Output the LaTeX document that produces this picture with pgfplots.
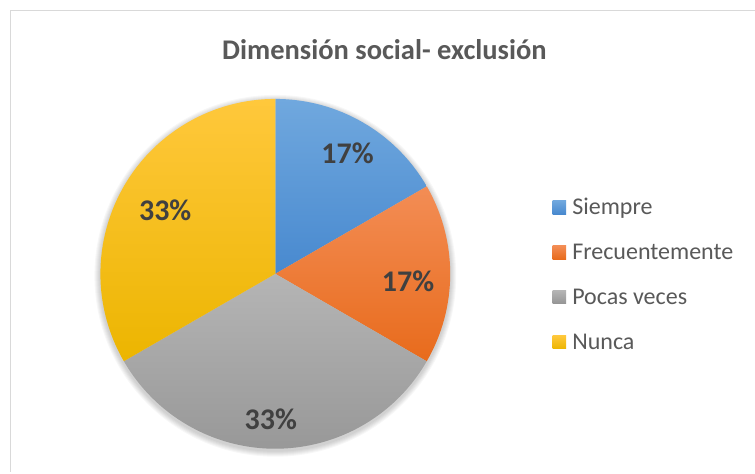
\documentclass[border=0pt]{standalone}
\usepackage{pgfplots}
\usepackage{pgfplotstable}
\usepackage{fontspec}
\pgfplotsset{compat=1.18}
\setmainfont{Carlito}

\definecolor{blueT}{HTML}{70A8DE}
\definecolor{blueB}{HTML}{4889CF}
\definecolor{orangeT}{HTML}{F38D55}
\definecolor{orangeB}{HTML}{E86B1C}
\definecolor{grayT}{HTML}{B5B5B5}
\definecolor{grayB}{HTML}{949494}
\definecolor{goldT}{HTML}{FFC83C}
\definecolor{goldB}{HTML}{ECB500}
\definecolor{lbl}{HTML}{404040}
\definecolor{txt}{HTML}{595959}
\definecolor{frame}{HTML}{D9D9D9}

% share of answers, in percent
\pgfplotstableread[col sep=comma]{
label,value
Siempre,16.67
Frecuentemente,16.67
Pocas veces,33.33
Nunca,33.33
}\piedata

% pie centre and radius (axis units = pt)
\def\cx{275.5}
\def\cy{198}
\def\rr{175}

\pgfplotstablegetelem{0}{value}\of\piedata\let\vA\pgfplotsretval
\pgfplotstablegetelem{1}{value}\of\piedata\let\vB\pgfplotsretval
\pgfplotstablegetelem{2}{value}\of\piedata\let\vC\pgfplotsretval
\pgfplotstablegetelem{3}{value}\of\piedata\let\vD\pgfplotsretval

\pgfmathsetmacro\aA{90}
\pgfmathsetmacro\aB{\aA-3.6*\vA}
\pgfmathsetmacro\aC{\aB-3.6*\vB}
\pgfmathsetmacro\aD{\aC-3.6*\vC}
\pgfmathsetmacro\aE{\aD-3.6*\vD}

\pgfmathsetmacro\xA{\cx+\rr*cos(\aA)}\pgfmathsetmacro\yA{\cy+\rr*sin(\aA)}
\pgfmathsetmacro\xB{\cx+\rr*cos(\aB)}\pgfmathsetmacro\yB{\cy+\rr*sin(\aB)}
\pgfmathsetmacro\xC{\cx+\rr*cos(\aC)}\pgfmathsetmacro\yC{\cy+\rr*sin(\aC)}
\pgfmathsetmacro\xD{\cx+\rr*cos(\aD)}\pgfmathsetmacro\yD{\cy+\rr*sin(\aD)}

\pgfmathtruncatemacro\pA{round(\vA)}
\pgfmathtruncatemacro\pB{round(\vB)}
\pgfmathtruncatemacro\pC{round(\vC)}
\pgfmathtruncatemacro\pD{round(\vD)}

\begin{document}
\begin{tikzpicture}
\begin{axis}[
width=755pt,
height=472pt,
scale only axis,
xmin=0, xmax=755,
ymin=0, ymax=472,
hide axis,
clip=false,
]
\fill[white] (axis cs:0,0) rectangle (axis cs:755,472);
\draw[frame, line width=1pt] (axis cs:10.5,0) -- (axis cs:10.5,461.5) -- (axis cs:755,461.5);

% title
\node[anchor=base, text=txt, font=\fontsize{28.5}{34}\selectfont\bfseries]
  at (axis cs:384.7,412) {Dimensión social- exclusión};

% soft shadow
\pgfplotsinvokeforeach{1,...,6}{
  \fill[black, opacity=0.03] (axis cs:\cx,\cy-2) circle[radius={\rr pt + #1 pt}];
}

% slices
\shade[top color=blueT, bottom color=blueB]
  (axis cs:\cx,\cy) -- (axis cs:\xA,\yA) arc[start angle=\aA, end angle=\aB, radius=\rr pt] -- cycle;
\shade[top color=orangeT, bottom color=orangeB]
  (axis cs:\cx,\cy) -- (axis cs:\xB,\yB) arc[start angle=\aB, end angle=\aC, radius=\rr pt] -- cycle;
\shade[top color=grayT, bottom color=grayB]
  (axis cs:\cx,\cy) -- (axis cs:\xC,\yC) arc[start angle=\aC, end angle=\aD, radius=\rr pt] -- cycle;
\shade[top color=goldT, bottom color=goldB]
  (axis cs:\cx,\cy) -- (axis cs:\xD,\yD) arc[start angle=\aD, end angle=\aE, radius=\rr pt] -- cycle;

% data labels
\tikzset{pct/.style={text=lbl, inner sep=0pt, font=\fontsize{30}{36}\selectfont\bfseries}}
\node[pct] at (axis cs:347.7,318.2) {\pA\%};
\node[pct] at (axis cs:408.3,190.3) {\pB\%};
\node[pct] at (axis cs:271,52) {\pC\%};
\node[pct] at (axis cs:165.3,261.5) {\pD\%};

% legend
\tikzset{leg/.style={anchor=base west, text=txt, inner sep=0pt, font=\fontsize{24}{28}\selectfont}}
\shade[top color=blueT, bottom color=blueB] (axis cs:553,257.8) rectangle (axis cs:566.5,271.3);
\node[leg] at (axis cs:572.5,257.7) {Siempre};
\shade[top color=orangeT, bottom color=orangeB] (axis cs:553,212.8) rectangle (axis cs:566.5,226.3);
\node[leg] at (axis cs:572.5,212.7) {Frecuentemente};
\shade[top color=grayT, bottom color=grayB] (axis cs:553,167.8) rectangle (axis cs:566.5,181.3);
\node[leg] at (axis cs:572.5,167.7) {Pocas veces};
\shade[top color=goldT, bottom color=goldB] (axis cs:553,122.8) rectangle (axis cs:566.5,136.3);
\node[leg] at (axis cs:572.5,122.7) {Nunca};
\end{axis}
\end{tikzpicture}
\end{document}
